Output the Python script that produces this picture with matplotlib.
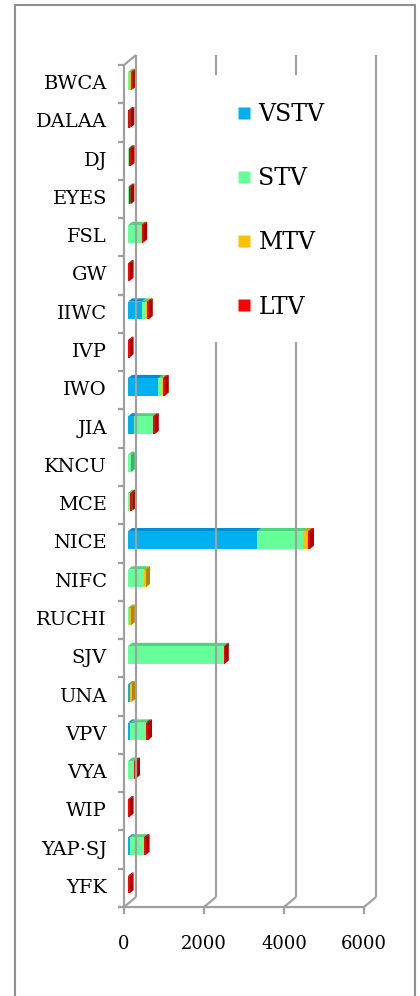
import matplotlib
matplotlib.use("Agg")
import matplotlib.pyplot as plt
from matplotlib.patches import Polygon, Rectangle
from matplotlib.lines import Line2D

plt.rcParams['font.family'] = ['DejaVu Serif']

categories = ["BWCA", "DALAA", "DJ", "EYES", "FSL", "GW", "IIWC", "IVP", "IWO", "JIA",
              "KNCU", "MCE", "NICE", "NIFC", "RUCHI", "SJV", "UNA", "VPV", "VYA", "WIP",
              "YAP·SJ", "YFK"]
vstv = [0, 0, 0, 0, 0, 0, 340, 0, 760, 150, 0, 0, 3230, 0, 0, 0, 40, 60, 0, 0, 50, 0]
stv = [30, 10, 15, 20, 320, 0, 110, 0, 90, 470, 70, 60, 1150, 410, 20, 2400, 0, 390, 150, 0, 340, 0]
mtv = [50, 0, 0, 0, 20, 0, 30, 0, 20, 0, 0, 0, 120, 40, 50, 0, 50, 0, 0, 0, 0, 0]
ltv = [30, 50, 50, 40, 40, 40, 40, 40, 50, 50, 0, 50, 50, 0, 0, 20, 0, 50, 50, 40, 50, 40]
series = ["VSTV", "STV", "MTV", "LTV"]
xticks = [0, 2000, 4000, 6000]

front = ["#00B0F0", "#66FF99", "#FFC000", "#FF0000"]
top = ["#0090D0", "#4CD47E", "#D8A000", "#D00000"]
side = ["#0078B0", "#3CB068", "#B88400", "#B00000"]
wall = "#A0A0A0"

fig = plt.figure(figsize=(4.2, 9.96), dpi=100)
# outer frame
fig.patches.append(Rectangle((15 / 420, -0.01), 400 / 420, 1 - 5 / 996 + 0.01,
                             transform=fig.transFigure, fill=False,
                             edgecolor="#909090", linewidth=1.5))

ax = fig.add_axes([124 / 420, 89 / 996, 240 / 420, 842 / 996])
n = len(categories)
ax.set_xlim(0, 6000)
ax.set_ylim(n - 0.5, -0.5)
ax.axis("off")

# depth offsets (value units, category units)
per_px_x = 6000 / 240
per_px_y = n / 842
DX, DY = 12 * per_px_x, -10 * per_px_y
fx, fy = 4 * per_px_x, -3.3 * per_px_y
bx, by = 8 * per_px_x, -6.6 * per_px_y
h = 0.46

# walls / gridlines
kw = dict(color=wall, lw=1.6, clip_on=False, solid_capstyle="butt")
for g in xticks:
    ax.plot([g + DX, g + DX], [-0.5 + DY, n - 0.5 + DY], **kw)
    ax.plot([g, g + DX], [n - 0.5, n - 0.5 + DY], **kw)
    ax.plot([g, g], [n - 0.5, n - 0.5 + 7 * per_px_y], **kw)
    ax.text(g, n - 0.5 + 37 * per_px_y, f"{g}", ha="center", va="center", fontsize=13)
ax.plot([0, 0], [-0.5, n - 0.5], **kw)
ax.plot([0, DX], [-0.5, -0.5 + DY], **kw)
ax.plot([-6 * per_px_x, 6000], [n - 0.5, n - 0.5], **kw)
for k in range(n + 1):
    ax.plot([-6 * per_px_x, 0], [k - 0.5, k - 0.5], **kw)
for i, c in enumerate(categories):
    ax.text(-17 * per_px_x, i, c, ha="right", va="center", fontsize=14)

# bars
data = [vstv, stv, mtv, ltv]
for i in range(n):
    left = 0
    y0, y1 = i - h / 2, i + h / 2
    for s in range(4):
        w = data[s][i]
        if w <= 0:
            continue
        r = left + w
        ax.add_patch(Polygon([(r + fx, y1 + fy), (r + fx, y0 + fy), (r + bx, y0 + by), (r + bx, y1 + by)],
                             closed=True, facecolor=side[s], edgecolor="none", clip_on=False))
        ax.add_patch(Polygon([(left + fx, y0 + fy), (r + fx, y0 + fy), (r + bx, y0 + by), (left + bx, y0 + by)],
                             closed=True, facecolor=top[s], edgecolor="none", clip_on=False))
        ax.add_patch(Rectangle((left + fx, y0 + fy), w, h, facecolor=front[s],
                               edgecolor="none", clip_on=False))
        left = r

# white legend area hiding the middle gridlines
fig.patches.append(Rectangle((205 / 420, 1 - 342 / 996), 160 / 420, 267 / 996,
                             transform=fig.transFigure, facecolor="white",
                             edgecolor="none", zorder=5))

handles = [Line2D([], [], marker="s", linestyle="none", markersize=9,
                  markerfacecolor=front[s], markeredgecolor="none") for s in range(4)]
leg = fig.legend(handles, series, loc="upper left",
                 bbox_to_anchor=(223 / 420, 1 - 91 / 996),
                 fontsize=17, frameon=False, labelspacing=1.75, handletextpad=0.2,
                 borderpad=0.0, handlelength=0.8)
leg.set_zorder(6)

fig.savefig("out.png", dpi=100)
